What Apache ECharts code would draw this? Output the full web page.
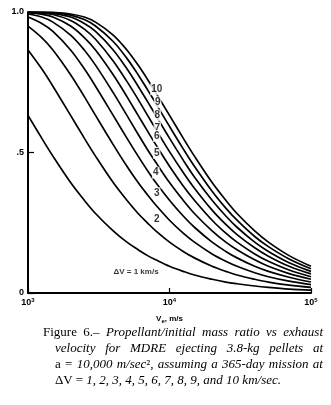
<!DOCTYPE html>
<html><head><meta charset="utf-8">
<script src="https://cdn.jsdelivr.net/npm/echarts@6/dist/echarts.min.js"></script>
<style>
html,body{margin:0;padding:0;background:#fff;}
#wrap{position:relative;width:331px;height:405px;overflow:hidden;}
#chart{position:absolute;left:0;top:0;width:331px;height:405px;}
#cap{position:absolute;left:43px;top:324px;width:280px;font-family:"Liberation Serif","DejaVu Serif",serif;font-size:13px;line-height:16px;color:#000;}
#cap .l{text-align:justify;text-align-last:justify;white-space:nowrap;}
#cap .i{padding-left:12px;}
#cap em{font-style:italic;}
</style></head>
<body><div id="wrap"><div id="chart"></div>
<div id="cap">
<div class="l">Figure 6.– <em>Propellant/initial mass ratio vs exhaust</em></div>
<div class="l i"><em>velocity for MDRE ejecting 3.8-kg pellets at</em></div>
<div class="l i">a = <em>10,000 m/sec</em>², <em>assuming a 365-day mission at</em></div>
<div class="i">ΔV = <em>1, 2, 3, 4, 5, 6, 7, 8, 9, and 10 km/sec.</em></div>
</div></div>
<script>
// Exhaust velocity (m/s) sample points
const veValues = [1000,1250,1500,2000,2500,3000,4000,5000,6000,7000,8000,10000,12500,15000,20000,25000,30000,40000,50000,70000,100000];
// M_prop / M_0 for each ΔV (km/s)
const dv1  = [0.632,0.551,0.487,0.393,0.330,0.283,0.221,0.181,0.154,0.133,0.118,0.095,0.077,0.064,0.049,0.039,0.033,0.025,0.020,0.014,0.010];
const dv2  = [0.865,0.798,0.736,0.632,0.551,0.487,0.393,0.330,0.283,0.249,0.221,0.181,0.148,0.125,0.095,0.077,0.064,0.049,0.039,0.028,0.020];
const dv3  = [0.950,0.909,0.865,0.777,0.699,0.632,0.528,0.451,0.393,0.349,0.313,0.259,0.213,0.181,0.139,0.113,0.095,0.072,0.058,0.042,0.030];
const dv4  = [0.982,0.959,0.931,0.865,0.798,0.736,0.632,0.551,0.487,0.435,0.393,0.330,0.274,0.234,0.181,0.148,0.125,0.095,0.077,0.056,0.039];
const dv5  = [0.993,0.982,0.964,0.918,0.865,0.811,0.713,0.632,0.565,0.510,0.465,0.393,0.330,0.283,0.221,0.181,0.154,0.118,0.095,0.069,0.049];
const dv6  = [0.998,0.992,0.982,0.950,0.909,0.865,0.777,0.699,0.632,0.576,0.528,0.451,0.381,0.330,0.259,0.213,0.181,0.139,0.113,0.082,0.058];
const dv7  = [0.999,0.996,0.991,0.970,0.939,0.903,0.826,0.753,0.689,0.632,0.583,0.503,0.429,0.373,0.295,0.244,0.208,0.161,0.131,0.095,0.068];
const dv8  = [1.000,0.998,0.995,0.982,0.959,0.931,0.865,0.798,0.736,0.681,0.632,0.551,0.473,0.413,0.330,0.274,0.234,0.181,0.148,0.108,0.077];
const dv9  = [1.000,0.999,0.998,0.989,0.973,0.950,0.895,0.835,0.777,0.723,0.675,0.593,0.513,0.451,0.362,0.302,0.259,0.201,0.165,0.121,0.086];
const dv10 = [1.000,1.000,0.999,0.993,0.982,0.964,0.918,0.865,0.811,0.760,0.713,0.632,0.551,0.487,0.393,0.330,0.283,0.221,0.181,0.133,0.095];
const curves = [dv1,dv2,dv3,dv4,dv5,dv6,dv7,dv8,dv9,dv10];
// curve labels
const labelNames = ['10','9','8','7','6','5','4','3','2'];
const labelVe = [8120,8250,8200,8200,8120,8120,8000,8120,8120];
const labelY  = [0.725,0.679,0.632,0.588,0.559,0.499,0.428,0.355,0.262];
const noteText = 'ΔV = 1 km/s';
const noteVe = 5800, noteY = 0.075;
// tick labels
const xTickExp = {1000:'3',10000:'4',100000:'5'};
const yTickText = {0:'0',0.5:'.5',1:'1.0'};

const chart = echarts.init(document.getElementById('chart'), null, {renderer:'canvas'});
const FONT = '"Liberation Sans", Arial, sans-serif';
const series = curves.map((c,i)=>({
  type:'line', name:String(i+1), data: veValues.map((v,j)=>[v,c[j]]),
  smooth:0.35, symbol:'none', lineStyle:{color:'#000',width:1.7}, z:2, silent:true
}));
series.push({
  type:'scatter', symbolSize:1, itemStyle:{color:'rgba(0,0,0,0)'}, z:5, silent:true,
  data: labelNames.map((n,i)=>({name:n, value:[labelVe[i],labelY[i]]})),
  label:{show:true, position:'inside', formatter:p=>p.name, color:'#000', fontFamily:FONT, fontWeight:'bold', fontSize:10, backgroundColor:'#fff', padding:[1,1]}
});
series.push({
  type:'scatter', symbolSize:1, itemStyle:{color:'rgba(0,0,0,0)'}, z:5, silent:true,
  data:[{name:noteText, value:[noteVe,noteY]}],
  label:{show:true, position:'inside', formatter:p=>p.name, color:'#000', fontFamily:FONT, fontWeight:'bold', fontSize:8}
});
chart.setOption({
  animation:false,
  grid:{left:28, right:20, top:12, bottom:112, containLabel:false, outerBoundsMode:'none'},
  xAxis:{type:'log', logBase:10, min:1000, max:100000,
    axisLine:{lineStyle:{color:'#000',width:2}},
    axisTick:{inside:true,length:5,lineStyle:{color:'#000',width:1.2}},
    minorTick:{show:false}, splitLine:{show:false},
    axisLabel:{margin:4, formatter:v=>'{b|10}{s|'+(xTickExp[v]||'')+'}',
      rich:{b:{fontFamily:FONT,fontWeight:'bold',fontSize:9,color:'#000'}, s:{fontFamily:FONT,fontWeight:'bold',fontSize:6,color:'#000',verticalAlign:'top',padding:[0,0,5,0]}}},
    name:'{m|V}{s|e}{m|, m/s}', nameLocation:'middle', nameGap:21,
    nameTextStyle:{rich:{m:{fontFamily:FONT,fontWeight:'bold',fontSize:8,color:'#000'}, s:{fontFamily:FONT,fontWeight:'bold',fontSize:6,color:'#000',verticalAlign:'bottom',padding:[4,0,0,0]}}}
  },
  yAxis:{type:'value', min:0, max:1, interval:0.5,
    axisLine:{show:true,lineStyle:{color:'#000',width:2}},
    axisTick:{show:true,inside:true,length:6,lineStyle:{color:'#000',width:1.2}},
    splitLine:{show:false},
    axisLabel:{margin:4, formatter:v=>yTickText[v]!==undefined?yTickText[v]:'', fontFamily:FONT, fontWeight:'bold', fontSize:9, color:'#000'},
    name:'{m|M}{s|prop}{m| / M}{s|0}', nameLocation:'middle', nameRotate:90, nameGap:14,
    nameTextStyle:{rich:{m:{fontFamily:FONT,fontWeight:'bold',fontSize:9,color:'#000'}, s:{fontFamily:FONT,fontWeight:'bold',fontSize:6,color:'#000',verticalAlign:'bottom',padding:[4,0,0,0]}}}
  },
  series
});
</script></body></html>
